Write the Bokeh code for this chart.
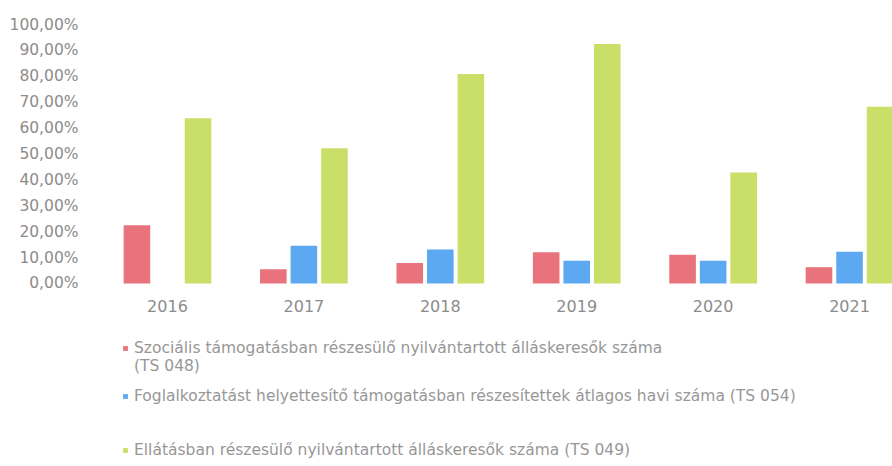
from bokeh.plotting import figure
from bokeh.models import FixedTicker, Range1d, Legend, LegendItem, ColumnDataSource
from bokeh.transform import dodge
from bokeh.embed import file_html
from bokeh.resources import INLINE

years = ["2016", "2017", "2018", "2019", "2020", "2021"]
szocialis = [22.5, 5.5, 7.9, 12.1, 11.1, 6.3]
foglalkoztatast = [0.0, 14.6, 13.1, 8.8, 8.8, 12.3]
ellatasban = [63.8, 52.2, 80.9, 92.5, 42.9, 68.2]
y_ticks = [0, 10, 20, 30, 40, 50, 60, 70, 80, 90, 100]
label_lines_1 = ["Szociális támogatásban részesülő nyilvántartott álláskeresők száma", "(TS 048)"]
label_2 = "Foglalkoztatást helyettesítő támogatásban részesítettek átlagos havi száma (TS 054)"
label_3 = "Ellátásban részesülő nyilvántartott álláskeresők száma (TS 049)"
colors = ["#e8737d", "#5da9f1", "#cadf68"]

idx = list(range(len(years)))
src = ColumnDataSource(dict(x=idx, a=szocialis, b=foglalkoztatast, c=ellatasban))

FONT = "DejaVu Sans"
TXT = "#8c8c8c"

# frame spans the full height below the top border; the value axis keeps 0..100
# in the upper 259 px, the area below holds the category labels and the legend
p = figure(width=892, height=466, output_backend="svg", toolbar_location=None,
           x_range=Range1d(-0.579, 5.315), y_range=Range1d(-70.66, 100),
           min_border_left=88, min_border_right=0, min_border_top=24, min_border_bottom=0)
p.outline_line_color = None
p.grid.visible = False

r1 = p.vbar(x=dodge("x", -0.224, range=p.x_range), top="a", width=0.195, source=src,
            fill_color=colors[0], line_color=None)
r2 = p.vbar(x=dodge("x", 0.0, range=p.x_range), top="b", width=0.195, source=src,
            fill_color=colors[1], line_color=None)
r3 = p.vbar(x=dodge("x", 0.224, range=p.x_range), top="c", width=0.195, source=src,
            fill_color=colors[2], line_color=None)
# invisible renderer used only for the wrapped second line of the first legend entry
r_blank = p.vbar(x=[], top=[], width=0.1, fill_alpha=0, line_alpha=0)

p.yaxis.ticker = FixedTicker(ticks=y_ticks)
p.yaxis.major_label_overrides = {t: f"{t},00%" for t in y_ticks}
p.xaxis.ticker = FixedTicker(ticks=idx)
p.xaxis.major_label_overrides = {i: y for i, y in zip(idx, years)}
p.xaxis.fixed_location = 0
for ax in (p.xaxis, p.yaxis):
    ax.axis_line_color = None
    ax.major_tick_line_color = None
    ax.minor_tick_line_color = None
    ax.major_label_text_font = FONT
    ax.major_label_text_color = TXT
p.yaxis.major_label_text_font_size = "15.5px"
p.yaxis.major_label_standoff = 4
p.xaxis.major_label_text_font_size = "16px"
p.xaxis.major_label_standoff = 11

legend_specs = [
    ([LegendItem(label=label_lines_1[0], renderers=[r1]),
      LegendItem(label=label_lines_1[1], renderers=[r_blank])], (34, 91)),
    ([LegendItem(label=label_2, renderers=[r2])], (34, 61)),
    ([LegendItem(label=label_3, renderers=[r3])], (34, 7)),
]
for items, loc in legend_specs:
    lg = Legend(items=items, location=loc, spacing=-3,
                glyph_width=6, glyph_height=6, label_standoff=6, padding=0, margin=0,
                border_line_color=None, background_fill_alpha=0,
                label_text_font=FONT, label_text_font_size="15.5px",
                label_text_color="#979797", label_height=16)
    p.add_layout(lg, "center")

open("out.html", "w").write(file_html(p, INLINE))
